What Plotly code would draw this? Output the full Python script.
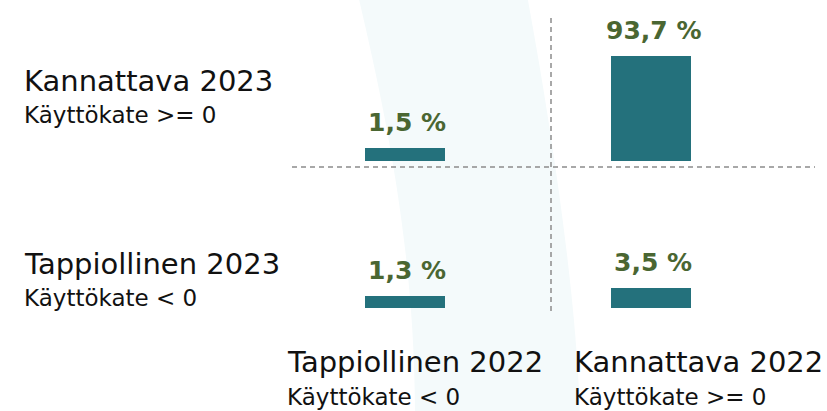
import numpy as np
import plotly.graph_objects as go

# ---------------- data ----------------
cols_2022 = ["Tappiollinen 2022", "Kannattava 2022"]
cols_sub = ["Käyttökate < 0", "Käyttökate >= 0"]
rows_2023 = ["Kannattava 2023", "Tappiollinen 2023"]
rows_sub = ["Käyttökate >= 0", "Käyttökate < 0"]
share_kannattava_2023 = [1.5, 93.7]     # by 2022 column
share_tappiollinen_2023 = [1.3, 3.5]    # by 2022 column

# ---------------- styles ----------------
W, H = 827, 411
BAR = "#24717c"
VAL = "#4a6632"
GRID = "#8c8c8c"
SWOOSH = "#f4fafb"
FONT = "DejaVu Sans"
PX_PER_UNIT = 10.86          # pixels per sqrt(%) unit


def fx(px):
    return px / W


def fy(py):
    return 1 - py / H


def fmt(v):
    return f"{v:.1f}".replace(".", ",") + " %"


# category x axis: centres at 405 px and 651 px
c0, unit = 405.0, 246.0
xr = [-c0 / unit, (W - c0) / unit]
bw = 80.0 / unit

top_base, top_top = 161, 0
bot_base, bot_top = 308, 170

fig = go.Figure()
fig.add_trace(go.Bar(x=cols_2022, y=np.sqrt(share_kannattava_2023), width=bw,
                     marker=dict(color=BAR, line=dict(width=0)),
                     xaxis="x", yaxis="y", hoverinfo="skip", showlegend=False))
fig.add_trace(go.Bar(x=cols_2022, y=np.sqrt(share_tappiollinen_2023), width=bw,
                     marker=dict(color=BAR, line=dict(width=0)),
                     xaxis="x2", yaxis="y2", hoverinfo="skip", showlegend=False))

annotations = []
for ax, vals in (("", share_kannattava_2023), ("2", share_tappiollinen_2023)):
    for c, v in zip(cols_2022, vals):
        annotations.append(dict(
            x=c, y=float(np.sqrt(v)), xref="x" + ax, yref="y" + ax,
            text=fmt(v), showarrow=False, xanchor="center", yanchor="bottom",
            yshift=9, xshift=2, font=dict(family=FONT, size=25, color=VAL, weight="bold")))

# row labels (left)
row_title_y = [81, 264]
for t, s, yy in zip(rows_2023, rows_sub, row_title_y):
    annotations.append(dict(x=fx(22), y=fy(yy), xref="paper", yref="paper",
                            text=t, showarrow=False, xanchor="left", yanchor="middle",
                            font=dict(family=FONT, size=29, color="#111111")))
    annotations.append(dict(x=fx(22), y=fy(yy + 34), xref="paper", yref="paper",
                            text=s, showarrow=False, xanchor="left", yanchor="middle",
                            font=dict(family=FONT, size=23, color="#111111")))

# column labels (bottom)
col_x = [285, 572]
for t, s, xx in zip(cols_2022, cols_sub, col_x):
    annotations.append(dict(x=fx(xx), y=fy(362), xref="paper", yref="paper",
                            text=t, showarrow=False, xanchor="left", yanchor="middle",
                            font=dict(family=FONT, size=29, color="#111111")))
    annotations.append(dict(x=fx(xx), y=fy(397), xref="paper", yref="paper",
                            text=s, showarrow=False, xanchor="left", yanchor="middle",
                            font=dict(family=FONT, size=23, color="#111111")))


def P(px, py):
    return f"{fx(px):.5f},{fy(py):.5f}"


swoosh_path = ("M " + P(358, -5) + " C " + P(385, 110) + " " + P(415, 250) + " " + P(415, 416)
               + " L " + P(580, 416) + " C " + P(577, 300) + " " + P(552, 130) + " " + P(527, -5) + " Z")

shapes = [
    dict(type="path", path=swoosh_path, xref="paper", yref="paper",
         fillcolor=SWOOSH, line=dict(width=0), layer="below"),
    dict(type="line", xref="paper", yref="paper", x0=fx(292), x1=fx(815), y0=fy(167), y1=fy(167),
         line=dict(color=GRID, width=1.5, dash="5px,4px"), layer="below"),
    dict(type="line", xref="paper", yref="paper", x0=fx(551), x1=fx(551), y0=fy(18), y1=fy(314),
         line=dict(color=GRID, width=1.5, dash="5px,4px"), layer="below"),
]

hidden = dict(visible=False, showgrid=False, zeroline=False, fixedrange=True)
fig.update_layout(
    width=W, height=H,
    margin=dict(l=0, r=0, t=0, b=0),
    paper_bgcolor="white", plot_bgcolor="rgba(0,0,0,0)",
    bargap=0,
    xaxis=dict(type="category", range=xr, domain=[0, 1], anchor="y", **hidden),
    xaxis2=dict(type="category", range=xr, domain=[0, 1], anchor="y2", **hidden),
    yaxis=dict(domain=[fy(top_base), fy(top_top)],
               range=[0, (top_base - top_top) / PX_PER_UNIT], anchor="x", **hidden),
    yaxis2=dict(domain=[fy(bot_base), fy(bot_top)],
                range=[0, (bot_base - bot_top) / PX_PER_UNIT], anchor="x2", **hidden),
    annotations=annotations,
    shapes=shapes,
    showlegend=False,
)

fig.write_html("out.html", config={"displayModeBar": False},
               post_script="document.body.style.margin='0';document.body.style.overflow='hidden';")
